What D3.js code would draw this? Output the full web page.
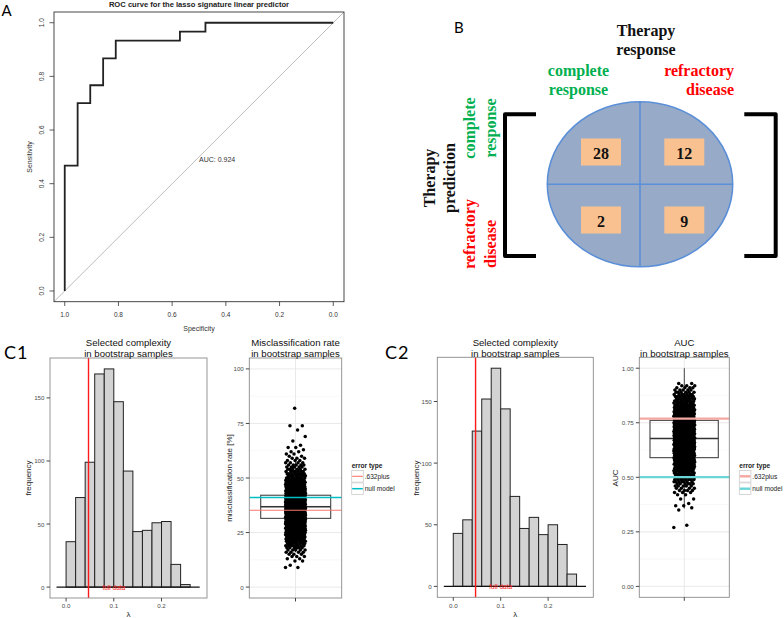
<!DOCTYPE html>
<html><head><meta charset="utf-8">
<script src="https://cdn.jsdelivr.net/npm/d3@7"></script>
<style>body{margin:0;background:#fff}svg{display:block}</style>
</head><body>
<script>
// ---------------- DATA ----------------
// Panel A: ROC staircase (specificity, sensitivity)
const rocSpecificity = [1, 1, 0.952, 0.952, 0.905, 0.905, 0.857, 0.857, 0.810, 0.810, 0.571, 0.571, 0.476, 0.476, 0];
const rocSensitivity = [0, 0.467, 0.467, 0.700, 0.700, 0.767, 0.767, 0.867, 0.867, 0.933, 0.933, 0.967, 0.967, 1, 1];
const rocTicks = [1.0, 0.8, 0.6, 0.4, 0.2, 0.0];
const rocAUC = 0.924;
const rocTitle = "ROC curve for the lasso signature linear predictor";

// Panel B: confusion table
const therapyClasses = ["complete response", "refractory disease"];
const confusionCounts = [[28, 12], [2, 9]]; // rows: prediction, cols: response

// Panels C: lambda histograms
const lambdaBinStart = [0, 0.02, 0.04, 0.06, 0.08, 0.10, 0.12, 0.14, 0.16, 0.18, 0.20, 0.22, 0.24];
const lambdaBinWidth = 0.02;
const c1Frequency = [36, 71, 99, 169, 173, 147, 92, 44, 45, 51, 52, 18, 2];
const c2Frequency = [43, 54, 126, 152, 177, 144, 73, 47, 56, 42, 50, 34, 10];
const fullDataLambda = 0.047;
const freqTicks = [0, 50, 100, 150];
const lambdaTicks = [0, 0.1, 0.2];

// C1: misclassification rate (%) values and how many bootstrap samples show each
const misValues = [9,10,12,13,14,15,16,17,18,19,20,21,22,23,24,25,26,27,28,29,30,31,32,33,34,35,36,37,38,39,40,41,42,43,44,45,46,47,48,49,50,51,52,53,54,55,56,57,58,59,60,61,62,63,64,65,67,69,72,74,82];
const misCounts = [2,1,2,2,3,3,4,5,6,8,9,11,14,16,19,22,25,28,31,34,36,38,40,41,42,42,42,41,40,38,36,34,31,28,25,22,19,16,14,12,10,9,8,7,6,5,5,4,3,3,2,2,2,1,2,1,1,1,1,2,1];
const misBoxStats = [16, 31.5, 36.8, 42.1, 58]; // lo, q1, median, q3, hi
const misErrorLines = [35.2, 41.1];            // .632plus, null model
const misTicks = [0, 25, 50, 75, 100];

// C2: AUC values and counts
const aucValues = [0.27,0.28,0.35,0.36,0.37,0.38,0.40,0.42,0.43,0.44,0.45,0.46,0.47,0.48,0.49,0.50,0.51,0.52,0.53,0.54,0.55,0.56,0.57,0.58,0.59,0.60,0.61,0.62,0.63,0.64,0.65,0.66,0.67,0.68,0.69,0.70,0.71,0.72,0.73,0.74,0.75,0.76,0.77,0.78,0.79,0.80,0.81,0.82,0.83,0.84,0.85,0.86,0.87,0.88,0.89,0.90,0.91,0.92,0.93];
const aucCounts = [1,1,1,1,2,1,2,2,3,4,4,5,6,7,8,9,10,11,13,14,15,16,17,18,19,20,21,22,23,24,24,25,25,25,25,25,24,24,23,22,21,20,19,18,17,16,15,13,12,11,10,9,8,7,6,5,4,3,2];
const aucBoxStats = [0.357, 0.59, 0.678, 0.761, 1.0];
const aucErrorLines = [0.769, 0.501];
const aucTicks = [0, 0.25, 0.5, 0.75, 1.0];

const errorTypes = [".632plus", "null model"];

// ---------------- DRAW ----------------
const W = 784, H = 618;
const svg = d3.select("body").append("svg").attr("width", W).attr("height", H);
svg.append("rect").attr("width", W).attr("height", H).attr("fill", "#fff");
const SANS = "'Liberation Sans', Arial, sans-serif";
const SERIF = "'Liberation Serif', 'Times New Roman', serif";
const LBL = "Lato, 'Open Sans', sans-serif";

// ---- Panel A ----
(function () {
  const g = svg.append("g").attr("font-family", SANS);
  const x = d3.scaleLinear().domain([1.04, -0.04]).range([54, 344]);
  const y = d3.scaleLinear().domain([-0.04, 1.04]).range([301.7, 12]);
  g.append("defs").append("clipPath").attr("id", "rocclip")
    .append("rect").attr("x", 54).attr("y", 12).attr("width", 290).attr("height", 289.7);
  g.append("line").attr("clip-path", "url(#rocclip)")
    .attr("x1", x(1.04)).attr("y1", y(-0.04)).attr("x2", x(-0.04)).attr("y2", y(1.04))
    .attr("stroke", "#b5b5b5").attr("stroke-width", 0.9);
  const pts = rocSpecificity.map((s, i) => [s, rocSensitivity[i]]);
  g.append("path").attr("d", d3.line().x(d => x(d[0])).y(d => y(d[1]))(pts))
    .attr("fill", "none").attr("stroke", "#222").attr("stroke-width", 1.8);
  g.append("rect").attr("x", 54).attr("y", 12).attr("width", 290).attr("height", 289.7)
    .attr("fill", "none").attr("stroke", "#333").attr("stroke-width", 0.9);
  rocTicks.forEach(t => {
    g.append("line").attr("x1", x(t)).attr("x2", x(t)).attr("y1", 301.7).attr("y2", 306).attr("stroke", "#333").attr("stroke-width", 0.8);
    g.append("text").attr("x", x(t)).attr("y", 314).attr("text-anchor", "middle").attr("dominant-baseline", "central")
      .attr("font-size", 6.5).attr("fill", "#333").text(d3.format(".1f")(t));
    g.append("line").attr("y1", y(t)).attr("y2", y(t)).attr("x1", 54).attr("x2", 49.5).attr("stroke", "#333").attr("stroke-width", 0.8);
    g.append("text").attr("transform", `translate(41.7,${y(t)}) rotate(-90)`).attr("text-anchor", "middle")
      .attr("dominant-baseline", "central").attr("font-size", 6.5).attr("fill", "#333").text(d3.format(".1f")(t));
  });
  g.append("text").attr("x", 199).attr("y", 328).attr("text-anchor", "middle").attr("dominant-baseline", "central")
    .attr("font-size", 7).attr("fill", "#333").text("Specificity");
  g.append("text").attr("transform", "translate(29,157) rotate(-90)").attr("text-anchor", "middle")
    .attr("dominant-baseline", "central").attr("font-size", 7).attr("fill", "#333").text("Sensitivity");
  g.append("text").attr("x", 199).attr("y", 4.5).attr("text-anchor", "middle").attr("dominant-baseline", "central")
    .attr("font-size", 7.6).attr("font-weight", "bold").attr("fill", "#222").text(rocTitle);
  g.append("text").attr("x", x(0.5)).attr("y", y(0.5) + 2.5).attr("dominant-baseline", "central")
    .attr("font-size", 7).attr("fill", "#333").text("AUC: " + d3.format(".3f")(rocAUC));
  svg.append("text").attr("x", 1.5).attr("y", 16).attr("font-family", LBL).attr("font-size", 15).text("A");
})();

// ---- Panel B ----
(function () {
  const g = svg.append("g").attr("font-family", SERIF).attr("font-weight", "bold").attr("font-size", 16);
  svg.append("text").attr("x", 454).attr("y", 32.5).attr("font-family", LBL).attr("font-size", 15).text("B");
  const cx = 640, cy = 184.3;
  g.append("ellipse").attr("cx", cx).attr("cy", cy).attr("rx", 92.7).attr("ry", 82.5)
    .attr("fill", "#97abc8").attr("stroke", "#5b8fd8").attr("stroke-width", 1.6);
  g.append("line").attr("x1", cx).attr("x2", cx).attr("y1", cy - 82.5).attr("y2", cy + 82.5).attr("stroke", "#5b8fd8").attr("stroke-width", 1.6);
  g.append("line").attr("x1", cx - 92.7).attr("x2", cx + 92.7).attr("y1", cy).attr("y2", cy).attr("stroke", "#5b8fd8").attr("stroke-width", 1.6);
  const col = d3.scalePoint().domain(therapyClasses).range([601, 684.3]);
  const row = d3.scalePoint().domain(therapyClasses).range([152, 220]);
  confusionCounts.forEach((r, i) => r.forEach((v, j) => {
    const px = col(therapyClasses[j]), py = row(therapyClasses[i]);
    g.append("rect").attr("x", px - 20).attr("y", py - 13.5).attr("width", 40).attr("height", 27).attr("fill", "#f8c18f");
    g.append("text").attr("x", px).attr("y", py + 1).attr("text-anchor", "middle").attr("dominant-baseline", "central")
      .attr("fill", "#111").text(v);
  }));
  // brackets
  g.append("path").attr("d", "M536,114.3 H505 V256 H536").attr("fill", "none").attr("stroke", "#000").attr("stroke-width", 4).attr("stroke-linejoin", "round");
  g.append("path").attr("d", "M744.3,114.3 H775.7 V256 H744.3").attr("fill", "none").attr("stroke", "#000").attr("stroke-width", 4).attr("stroke-linejoin", "round");
  // headers
  const hdr = (x, y, lines, color, anchor) => lines.forEach((t, k) =>
    g.append("text").attr("x", x).attr("y", y + k * 19.3).attr("text-anchor", anchor || "middle")
      .attr("dominant-baseline", "central").attr("fill", color).text(t));
  hdr(646, 30, ["Therapy", "response"], "#111");
  hdr(578.5, 70, ["complete", "response"], "#00b050");
  hdr(734, 70, ["refractory", "disease"], "#ff0000", "end");
  const vt = (x, y, t, color, anchor) => g.append("text").attr("transform", `translate(${x},${y}) rotate(-90)`)
    .attr("text-anchor", anchor || "middle").attr("dominant-baseline", "central").attr("fill", color).text(t);
  vt(429.5, 178, "Therapy", "#111");
  vt(449.5, 178, "prediction", "#111");
  vt(469, 128, "complete", "#00b050");
  vt(490, 128, "response", "#00b050");
  vt(469, 234, "refractory", "#ff0000");
  vt(490, 268, "disease", "#ff0000", "start");
})();

// ---- helpers for ggplot-like panels ----
function panelTitle(g, cx, lines) {
  lines.forEach((t, k) => g.append("text").attr("x", cx).attr("y", 342 + k * 11).attr("text-anchor", "middle")
    .attr("dominant-baseline", "central").attr("font-size", 9.6).attr("fill", "#111").text(t));
}
function yAxis(g, scale, x0, ticks, fmt) {
  ticks.forEach(t => {
    g.append("line").attr("x1", x0 - 3.5).attr("x2", x0).attr("y1", scale(t)).attr("y2", scale(t)).attr("stroke", "#333").attr("stroke-width", 0.9);
    g.append("text").attr("x", x0 - 5.5).attr("y", scale(t)).attr("text-anchor", "end").attr("dominant-baseline", "central")
      .attr("font-size", 6.2).attr("fill", "#4d4d4d").text(fmt(t));
  });
}
function histogram(freq, px0, px1, py0, py1, ylabX) {
  const g = svg.append("g").attr("font-family", SANS);
  const x = d3.scaleLinear().domain([-0.0337, 0.2953]).range([px0, px1]);
  const mx = d3.max(freq);
  const y = d3.scaleLinear().domain([-0.05 * mx, 1.05 * mx]).range([py1, py0]);
  g.append("rect").attr("x", px0).attr("y", py0).attr("width", px1 - px0).attr("height", py1 - py0).attr("fill", "#fff");
  g.selectAll("rect.bar").data(freq).join("rect").attr("class", "bar")
    .attr("x", (d, i) => x(lambdaBinStart[i])).attr("width", (d, i) => x(lambdaBinStart[i] + lambdaBinWidth) - x(lambdaBinStart[i]))
    .attr("y", d => y(d)).attr("height", d => y(0) - y(d))
    .attr("fill", "#d3d3d3").attr("stroke", "#222").attr("stroke-width", 1);
  g.append("line").attr("x1", x(-0.02)).attr("x2", x(0.28)).attr("y1", y(0)).attr("y2", y(0)).attr("stroke", "#111").attr("stroke-width", 1.2);
  g.append("line").attr("x1", x(fullDataLambda)).attr("x2", x(fullDataLambda)).attr("y1", py0).attr("y2", py1)
    .attr("stroke", "#ff1a1a").attr("stroke-width", 1.4);
  g.append("text").attr("x", x(0.1)).attr("y", y(0) + 0.5).attr("text-anchor", "middle").attr("dominant-baseline", "central")
    .attr("font-size", 6.5).attr("fill", "#ff2020").text("full data");
  g.append("rect").attr("x", px0).attr("y", py0).attr("width", px1 - px0).attr("height", py1 - py0)
    .attr("fill", "none").attr("stroke", "#8a8a8a").attr("stroke-width", 0.9);
  yAxis(g, y, px0, freqTicks, d3.format("d"));
  lambdaTicks.forEach(t => {
    g.append("line").attr("x1", x(t)).attr("x2", x(t)).attr("y1", py1).attr("y2", py1 + 3.5).attr("stroke", "#333").attr("stroke-width", 0.9);
    g.append("text").attr("x", x(t)).attr("y", 605).attr("text-anchor", "middle").attr("dominant-baseline", "central")
      .attr("font-size", 6.2).attr("fill", "#4d4d4d").text(d3.format(".1f")(t));
  });
  g.append("text").attr("x", (px0 + px1) / 2).attr("y", 614.5).attr("text-anchor", "middle").attr("dominant-baseline", "central")
    .attr("font-size", 8).attr("fill", "#222").text("λ");
  g.append("text").attr("transform", `translate(${ylabX},478) rotate(-90)`).attr("text-anchor", "middle")
    .attr("dominant-baseline", "central").attr("font-size", 8).attr("fill", "#222").text("frequency");
  panelTitle(g, (px0 + px1) / 2, ["Selected complexity", "in bootstrap samples"]);
}
function jitterBox(values, counts, box, lines, domain, ticks, fmt, px0, px1, py0, py1, boxX0, boxX1, jit, opts) {
  const g = svg.append("g").attr("font-family", SANS);
  const y = d3.scaleLinear().domain(domain).range([py1, py0]);
  const cx = (px0 + px1) / 2;
  g.append("rect").attr("x", px0).attr("y", py0).attr("width", px1 - px0).attr("height", py1 - py0).attr("fill", "#fff");
  // grid
  const step = ticks[1] - ticks[0];
  ticks.slice(0, -1).forEach(t => g.append("line").attr("x1", px0).attr("x2", px1).attr("y1", y(t + step / 2)).attr("y2", y(t + step / 2)).attr("stroke", "#f3f3f3").attr("stroke-width", 0.6));
  ticks.forEach(t => g.append("line").attr("x1", px0).attr("x2", px1).attr("y1", y(t)).attr("y2", y(t)).attr("stroke", "#e6e6e6").attr("stroke-width", 0.9));
  g.append("line").attr("x1", cx).attr("x2", cx).attr("y1", py0).attr("y2", py1).attr("stroke", "#e6e6e6").attr("stroke-width", 0.9);
  // box
  g.append("line").attr("x1", cx).attr("x2", cx).attr("y1", y(box[0])).attr("y2", y(box[1])).attr("stroke", "#333").attr("stroke-width", 0.9);
  g.append("line").attr("x1", cx).attr("x2", cx).attr("y1", y(box[3])).attr("y2", y(box[4])).attr("stroke", "#333").attr("stroke-width", 0.9);
  g.append("rect").attr("x", boxX0).attr("width", boxX1 - boxX0).attr("y", y(box[3])).attr("height", y(box[1]) - y(box[3]))
    .attr("fill", "none").attr("stroke", "#444").attr("stroke-width", 1.1);
  g.append("line").attr("x1", boxX0).attr("x2", boxX1).attr("y1", y(box[2])).attr("y2", y(box[2])).attr("stroke", "#333").attr("stroke-width", 1.5);
  // points
  const pts = [];
  values.forEach((v, k) => { for (let c = 0; c < counts[k]; c++) pts.push(v); });
  g.selectAll("circle").data(pts).join("circle")
    .attr("cx", (d, i) => cx + (((i * 0.6180339887) % 1) * 2 - 1) * jit)
    .attr("cy", d => y(d)).attr("r", 1.75).attr("fill", "#000");
  // error lines
  lines.forEach((v, k) => g.append("line").attr("x1", px0).attr("x2", px1).attr("y1", y(v)).attr("y2", y(v))
    .attr("stroke", opts.colors[k]).attr("stroke-width", opts.lw[k]));
  g.append("rect").attr("x", px0).attr("y", py0).attr("width", px1 - px0).attr("height", py1 - py0)
    .attr("fill", "none").attr("stroke", "#8a8a8a").attr("stroke-width", 0.9);
  yAxis(g, y, px0, ticks, fmt);
  g.append("line").attr("x1", cx).attr("x2", cx).attr("y1", py1).attr("y2", py1 + 3.5).attr("stroke", "#333").attr("stroke-width", 0.9);
  g.append("text").attr("transform", `translate(${opts.ylabX},478) rotate(-90)`).attr("text-anchor", "middle")
    .attr("dominant-baseline", "central").attr("font-size", 8).attr("fill", "#222").text(opts.ylab);
  panelTitle(g, cx, opts.title);
  // legend
  const lx = opts.legX;
  g.append("text").attr("x", lx).attr("y", 465.5).attr("dominant-baseline", "central").attr("font-size", 6.6)
    .attr("font-weight", "bold").attr("fill", "#222").text("error type");
  errorTypes.forEach((t, k) => {
    const ky = 470.5 + k * 12.4;
    g.append("rect").attr("x", lx).attr("y", ky).attr("width", 11.6).attr("height", 11.6).attr("fill", "#fff").attr("stroke", "#ccc").attr("stroke-width", 0.8);
    g.append("line").attr("x1", lx + 0.5).attr("x2", lx + 11.1).attr("y1", ky + 5.8).attr("y2", ky + 5.8).attr("stroke", opts.colors[k]).attr("stroke-width", opts.lw[k]);
    g.append("text").attr("x", lx + 13).attr("y", ky + 6).attr("dominant-baseline", "central").attr("font-size", 6.6).attr("fill", "#222").text(t);
  });
}

// C1
svg.append("text").attr("x", 4).attr("y", 359).attr("font-family", LBL).attr("font-size", 18).attr("letter-spacing", 1).text("C1");
histogram(c1Frequency, 50, 207, 358, 598, 28.3);
jitterBox(misValues, misCounts, misBoxStats, misErrorLines, [-5, 105], misTicks, d3.format("d"),
  249.3, 341.7, 358, 598, 260.7, 330.7, 10,
  { colors: ["#f8766d", "#00bfc4"], lw: [1.1, 1.5], ylab: "misclassification rate [%]", ylabX: 229.3,
    title: ["Misclassification rate", "in bootstrap samples"], legX: 351.7 });

// C2
svg.append("text").attr("x", 385).attr("y", 359).attr("font-family", LBL).attr("font-size", 18).attr("letter-spacing", 1).text("C2");
histogram(c2Frequency, 437.3, 593.3, 357.3, 597.3, 416.7);
jitterBox(aucValues, aucCounts, aucBoxStats, aucErrorLines, [-0.05, 1.05], aucTicks, d3.format(".2f"),
  639.3, 729.3, 357.3, 597.3, 650, 718.3, 10.5,
  { colors: ["#f5a8a2", "#6ad6da"], lw: [2.4, 2.4], ylab: "AUC", ylabX: 615,
    title: ["AUC", "in bootstrap samples"], legX: 739.3 });
</script>
</body></html>
